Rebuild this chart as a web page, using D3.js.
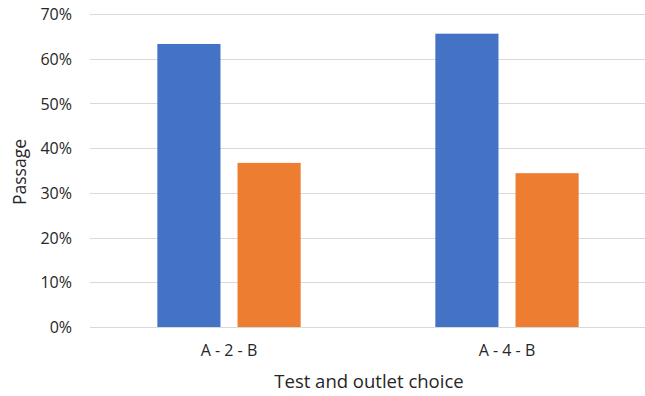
<!DOCTYPE html>
<html><head><meta charset="utf-8">
<script src="https://cdn.jsdelivr.net/npm/d3@7"></script>
<style>body{margin:0;background:#fff}svg{display:block}text{font-family:"Open Sans",sans-serif;fill:#262626}</style>
</head><body><svg id="c" width="645" height="396"></svg>
<script>
const categories = ["A - 2 - B", "A - 4 - B"];
const seriesNames = ["Series A", "Series B"];
const seriesA = [0.633, 0.656];
const seriesB = [0.367, 0.344];
const yTicks = [0, 0.1, 0.2, 0.3, 0.4, 0.5, 0.6, 0.7];
const colors = ["#4472C4", "#ED7D31"];

const svg = d3.select("#c");
const m = {l: 90, r: -1, t: 14, b: 69};
const W = 645, H = 396;
const x0 = d3.scaleBand().domain(categories).range([m.l, W - m.r]).paddingInner(0).paddingOuter(0);
const x1 = d3.scaleBand().domain(seriesNames).range([0, x0.bandwidth()]).paddingInner(0.2125).paddingOuter(0.84);
const y = d3.scaleLinear().domain([0, 0.7]).range([H - m.b, m.t]);

// gridlines
svg.append("g").selectAll("line").data(yTicks).join("line")
  .attr("x1", m.l).attr("x2", W).attr("y1", d => Math.round(y(d)) + 0.5).attr("y2", d => Math.round(y(d)) + 0.5)
  .attr("stroke", "#D9D9D9").attr("stroke-width", 1);

// y labels
const yAxis = svg.append("g").attr("transform", `translate(${m.l - 18},0)`)
  .call(d3.axisLeft(y).tickValues(yTicks).tickFormat(d3.format(".0%")).tickSize(0).tickPadding(0));
yAxis.select(".domain").remove();
yAxis.selectAll("text").style("font-size", "16px").attr("fill", "#262626").attr("dy", "0.35em");

// bars
const data = categories.map((c, i) => ({c, vals: [seriesA[i], seriesB[i]]}));
const g = svg.append("g").selectAll("g").data(data).join("g").attr("transform", d => `translate(${x0(d.c)},0)`);
g.selectAll("rect").data(d => d.vals.map((v, j) => ({v, s: seriesNames[j], j}))).join("rect")
  .attr("x", d => x1(d.s)).attr("width", x1.bandwidth())
  .attr("y", d => y(d.v)).attr("height", d => y(0) - y(d.v))
  .attr("fill", d => colors[d.j]);

// x axis labels
const xAxis = svg.append("g").attr("transform", `translate(0,${y(0)})`)
  .call(d3.axisBottom(x0).tickSize(0).tickPadding(18));
xAxis.select(".domain").remove();
xAxis.selectAll("text").style("font-size", "16px").attr("fill", "#262626");

// titles
svg.append("text").attr("x", 369).attr("y", 388).attr("text-anchor", "middle").style("font-size", "18.5px").text("Test and outlet choice");
svg.append("text").attr("transform", `translate(26,172) rotate(-90)`).attr("text-anchor", "middle").style("font-size", "17.5px").text("Passage");
</script></body></html>
